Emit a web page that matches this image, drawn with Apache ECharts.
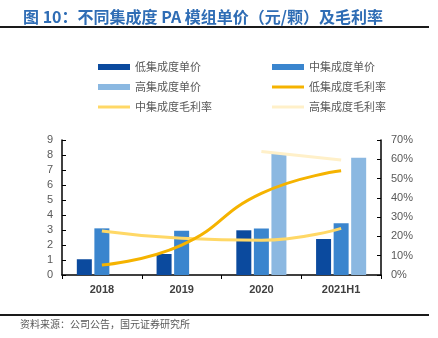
<!DOCTYPE html>
<html>
<head>
<meta charset="utf-8">
<script src="https://cdn.jsdelivr.net/npm/echarts@6/dist/echarts.min.js"></script>
<style>
html,body{margin:0;padding:0;background:#fff;}
#chart{width:438px;height:338px;}
</style>
</head>
<body>
<div id="chart"></div>
<script>
// Categories and values
const categories = ['2018', '2019', '2020', '2021H1'];
const lowPrice = [1.05, 1.4, 2.98, 2.4];
const midPrice = [3.11, 2.95, 3.1, 3.45];
const highPrice = [null, null, 8.07, 7.82];
const lowMargin = [5.2, 15.5, 42.3, 54.0];
const midMargin = [22.8, 19.0, 18.0, 24.2];
const highMargin = [null, null, 64.0, 59.6];
const leftTicks = { min: 0, max: 9, interval: 1 };
const rightTicks = { min: 0, max: 70, interval: 10 };

const names = ['低集成度单价', '中集成度单价', '高集成度单价', '低集成度毛利率', '中集成度毛利率', '高集成度毛利率'];
const colors = ['#0B4A9E', '#3A85CE', '#8BB8E1', '#F5B300', '#FFD866', '#FFF0C9'];
const cjk = '"Noto Sans CJK SC", sans-serif';
const latin = '"Liberation Sans", Arial, sans-serif';
// thin bar used as the legend mark of the margin lines
const lineIcon = 'path://M0,0H32V3H0Z';

const chart = echarts.init(document.getElementById('chart'));

const legendBase = {
  orient: 'vertical',
  top: 55,
  itemWidth: 32,
  itemHeight: 6,
  itemGap: 6,
  icon: 'rect',
  textStyle: { fontFamily: cjk, fontSize: 11, color: '#595959', lineHeight: 14 },
  selectedMode: false
};

chart.setOption({
  animation: false,
  title: {
    text: '图 10：不同集成度 PA 模组单价（元/颗）及毛利率',
    left: 18,
    top: 4,
    textStyle: { fontFamily: cjk, fontSize: 16, fontWeight: 'bold', color: '#2F6DB5' }
  },
  legend: [
    Object.assign({}, legendBase, { left: 93, data: [
      { name: names[0] }, { name: names[2] }, { name: names[4], icon: lineIcon }
    ] }),
    Object.assign({}, legendBase, { left: 267, data: [
      { name: names[1] }, { name: names[3], icon: lineIcon }, { name: names[5], icon: lineIcon }
    ] })
  ],
  grid: { left: 62, right: 57, top: 140, bottom: 63 },
  xAxis: {
    type: 'category',
    data: categories,
    axisLine: { lineStyle: { color: '#000', width: 1.5 } },
    axisTick: { show: true, inside: false, length: 4, lineStyle: { color: '#000' } },
    axisLabel: { fontFamily: latin, fontSize: 11, fontWeight: 'bold', color: '#404040', margin: 9 }
  },
  yAxis: [
    {
      type: 'value',
      min: leftTicks.min, max: leftTicks.max, interval: leftTicks.interval,
      axisLine: { show: true, lineStyle: { color: '#000', width: 1.5 } },
      axisTick: { show: true, inside: true, length: 4, lineStyle: { color: '#000' } },
      splitLine: { show: false },
      axisLabel: { fontFamily: latin, fontSize: 11, color: '#595959', margin: 9 }
    },
    {
      type: 'value',
      min: rightTicks.min, max: rightTicks.max, interval: rightTicks.interval,
      axisLine: { show: true, lineStyle: { color: '#000', width: 1.5 } },
      axisTick: { show: true, inside: true, length: 4, lineStyle: { color: '#000' } },
      splitLine: { show: false },
      axisLabel: { fontFamily: latin, fontSize: 11, color: '#595959', margin: 10, formatter: '{value}%' }
    }
  ],
  series: [
    { name: names[0], type: 'bar', data: lowPrice, barWidth: 15, barGap: '17%', itemStyle: { color: colors[0] } },
    { name: names[1], type: 'bar', data: midPrice, barWidth: 15, barGap: '17%', itemStyle: { color: colors[1] } },
    { name: names[2], type: 'bar', data: highPrice, barWidth: 15, barGap: '17%', itemStyle: { color: colors[2] } },
    { name: names[3], type: 'line', yAxisIndex: 1, data: lowMargin, smooth: 0.5, symbol: 'none', z: 5,
      lineStyle: { color: colors[3], width: 3 }, itemStyle: { color: colors[3] } },
    { name: names[4], type: 'line', yAxisIndex: 1, data: midMargin, smooth: 0.5, symbol: 'none', z: 4,
      lineStyle: { color: colors[4], width: 3 }, itemStyle: { color: colors[4] } },
    { name: names[5], type: 'line', yAxisIndex: 1, data: highMargin, smooth: 0.5, symbol: 'none', z: 4,
      lineStyle: { color: colors[5], width: 3 }, itemStyle: { color: colors[5] } }
  ],
  graphic: [
    { type: 'rect', shape: { x: 0, y: 26, width: 429, height: 2 }, style: { fill: '#1a1a1a' } },
    { type: 'rect', shape: { x: 0, y: 314, width: 429, height: 2 }, style: { fill: '#1a1a1a' } },
    { type: 'text', left: 20, top: 319,
      style: { text: '资料来源：公司公告，国元证券研究所', fontFamily: cjk, fontSize: 10, fill: '#595959' } }
  ]
});
</script>
</body>
</html>
